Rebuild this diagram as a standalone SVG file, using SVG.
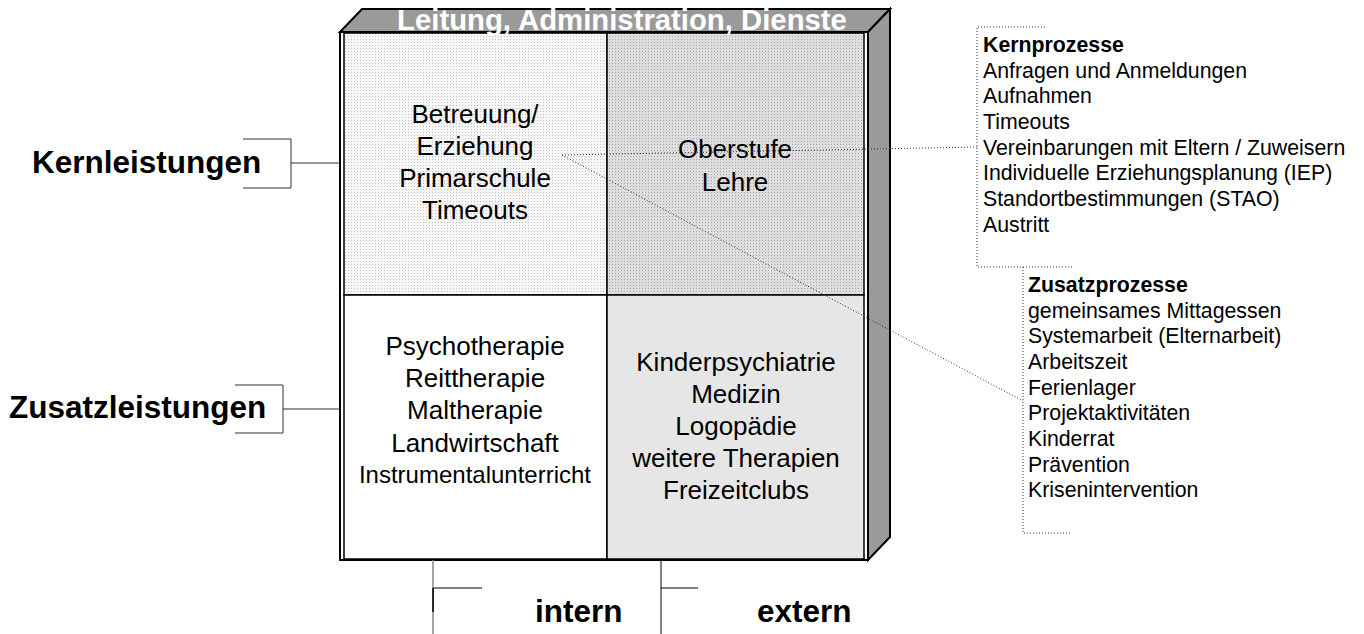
<svg xmlns="http://www.w3.org/2000/svg" width="1364" height="634" viewBox="0 0 1364 634">
<style>
text{font-family:"Liberation Sans",Arial,sans-serif;fill:#000}
.q{font-size:26px;text-anchor:middle}
.q24{font-size:24px}
.lbl{font-size:31.5px;font-weight:bold}
.lst{font-size:21.3px}
.b{font-weight:bold}
.frame{fill:none;stroke:#000;stroke-width:2}
.cell{stroke:#000;stroke-width:1.5}
.br{fill:none;stroke:#333;stroke-width:1}
.dot{fill:none;stroke:#333;stroke-width:1;stroke-dasharray:1 2}
</style>
<defs>
<pattern id="p1" width="3" height="3" patternUnits="userSpaceOnUse"><rect width="3" height="3" fill="#f6f6f6"/><rect width="1" height="1" fill="#c4c4c4"/></pattern>
<pattern id="p2" width="3" height="3" patternUnits="userSpaceOnUse"><rect width="3" height="3" fill="#dedede"/><rect width="1" height="1" fill="#a8a8a8"/></pattern>
</defs>
<rect width="1364" height="634" fill="#fff"/>
<g id="box">
<polygon points="340,32 362,9 890,9 868,32" fill="#9a9a9a" stroke="#000" stroke-width="2"/>
<polygon points="868,32 890,9 890,537 868,560" fill="#9a9a9a" stroke="#000" stroke-width="2"/>
<rect x="340" y="32" width="528" height="528" fill="#fff" class="frame"/>
</g>
<g id="kern-intern">
<rect x="344" y="33" width="263" height="262" fill="url(#p1)" class="cell"/>
<text class="q" x="475" y="123">Betreuung/</text>
<text class="q" x="475" y="155">Erziehung</text>
<text class="q" x="475" y="187">Primarschule</text>
<text class="q" x="475" y="219">Timeouts</text>
</g>
<g id="kern-extern">
<rect x="607" y="33" width="257" height="262" fill="url(#p2)" class="cell"/>
<text class="q" x="735" y="158">Oberstufe</text>
<text class="q" x="735" y="191">Lehre</text>
</g>
<g id="zusatz-intern">
<rect x="344" y="295" width="263" height="264" fill="#fff" class="cell"/>
<text class="q" x="475" y="355">Psychotherapie</text>
<text class="q" x="475" y="387">Reittherapie</text>
<text class="q" x="475" y="419">Maltherapie</text>
<text class="q" x="475" y="452">Landwirtschaft</text>
<text class="q q24" x="475" y="483">Instrumentalunterricht</text>
</g>
<g id="zusatz-extern">
<rect x="607" y="295" width="257" height="264" fill="#e6e6e6" class="cell"/>
<text class="q" x="736" y="371">Kinderpsychiatrie</text>
<text class="q" x="736" y="403">Medizin</text>
<text class="q" x="736" y="435">Logopädie</text>
<text class="q" x="736" y="467">weitere Therapien</text>
<text class="q" x="736" y="499">Freizeitclubs</text>
</g>
<g id="box-outline">
<rect x="340" y="32" width="528" height="528" class="frame"/>
<text x="622" y="30" style="fill:#fff;font-size:29.3px;font-weight:bold;text-anchor:middle">Leitung, Administration, Dienste</text>
</g>
<g id="kernleistungen">
<text class="lbl" x="32" y="173">Kernleistungen</text>
</g>
<g id="zusatzleistungen">
<text class="lbl" x="9" y="418">Zusatzleistungen</text>
</g>
<g id="intern">
<text class="lbl" x="535" y="622">intern</text>
</g>
<g id="extern">
<text class="lbl" x="757" y="622">extern</text>
</g>
<g id="kernprozesse">
<text class="lst" x="983" y="52"><tspan class="b">Kernprozesse</tspan></text>
<text class="lst" x="983" y="77.7">Anfragen und Anmeldungen</text>
<text class="lst" x="983" y="103.4">Aufnahmen</text>
<text class="lst" x="983" y="129">Timeouts</text>
<text class="lst" x="983" y="154.7">Vereinbarungen mit Eltern / Zuweisern</text>
<text class="lst" x="983" y="180.3">Individuelle Erziehungsplanung (IEP)</text>
<text class="lst" x="983" y="206">Standortbestimmungen (STAO)</text>
<text class="lst" x="983" y="231.7">Austritt</text>
</g>
<g id="zusatzprozesse">
<text class="lst" x="1028" y="292"><tspan class="b">Zusatzprozesse</tspan></text>
<text class="lst" x="1028" y="317.7">gemeinsames Mittagessen</text>
<text class="lst" x="1028" y="343.3">Systemarbeit (Elternarbeit)</text>
<text class="lst" x="1028" y="369">Arbeitszeit</text>
<text class="lst" x="1028" y="394.7">Ferienlager</text>
<text class="lst" x="1028" y="420.3">Projektaktivitäten</text>
<text class="lst" x="1028" y="446">Kinderrat</text>
<text class="lst" x="1028" y="471.7">Prävention</text>
<text class="lst" x="1028" y="497.3">Krisenintervention</text>
</g>
<g id="connectors">
<path class="br" d="M243,139H291V188H243M291,163H340"/>
<path class="br" d="M235,385H283V433H235M283,409H340"/>
<path d="M433,560V634" stroke="#888" stroke-width="1.5" fill="none"/>
<path d="M433,588V612" stroke="#000" stroke-width="1.5" fill="none"/>
<path d="M433,588H482" stroke="#000" stroke-width="1" fill="none"/>
<path d="M661,560V634M661,588H698" stroke="#000" stroke-width="1" fill="none"/>
<path class="dot" d="M562,155L977,147"/>
<path class="dot" d="M562,155L1023,401"/>
<path class="dot" d="M1045,27H977V267H1072"/>
<path class="dot" d="M1023,267V533H1070"/>
</g>
</svg>
